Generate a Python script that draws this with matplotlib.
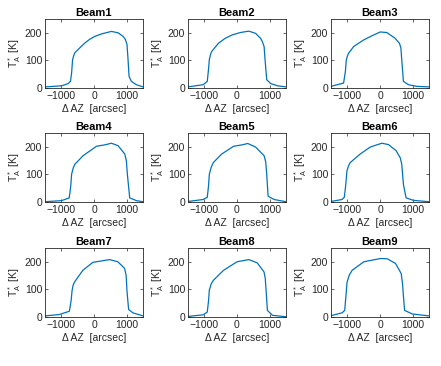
import matplotlib
matplotlib.use("Agg")
import matplotlib.pyplot as plt

plt.rcParams['font.family'] = ['Liberation Sans', 'DejaVu Sans']

titles = ['Beam1', 'Beam2', 'Beam3', 'Beam4', 'Beam5', 'Beam6', 'Beam7', 'Beam8', 'Beam9']

# azimuth offsets [arcsec] and antenna temperatures [K]
az1 = [-1500, -990, -790, -720, -686, -656, -620, -585, -430, -280, -127, 25, 230, 534, 737, 890, 960, 1010, 1043, 1073, 1144, 1297, 1500]
ta1 = [4, 8, 16, 24, 54, 102, 118, 128, 146, 163, 177, 187, 196, 205, 200, 187, 176, 158, 102, 42, 24, 12, 4]

az2 = [-1500, -1035, -910, -870, -848, -810, -776, -569, -362, -155, 103, 362, 569, 720, 776, 830, 859, 910, 1034, 1241, 1500]
ta2 = [4, 12, 24, 70, 102, 122, 132, 162, 180, 192, 201, 206, 198, 180, 168, 150, 102, 30, 16, 8, 4]

az3 = [-1500, -1114, -1060, -1032, -990, -961, -808, -503, -249, 5, 208, 463, 595, 640, 666, 717, 870, 1124, 1500]
ta3 = [6, 18, 60, 102, 118, 126, 150, 174, 189, 203, 201, 180, 162, 145, 102, 24, 12, 6, 4]

az4 = [-1500, -991, -758, -710, -686, -640, -585, -331, 76, 331, 534, 737, 941, 990, 1022, 1093, 1297, 1500]
ta4 = [1, 5, 15, 60, 100, 122, 137, 168, 202, 207, 213, 204, 174, 150, 100, 15, 5, 1]

az5 = [-1500, -1035, -910, -870, -848, -790, -724, -466, -103, 155, 331, 569, 828, 880, 910, 952, 1138, 1500]
ta5 = [2, 9, 17, 60, 100, 126, 143, 174, 202, 207, 212, 199, 168, 145, 100, 21, 9, 1]

az6 = [-1500, -1165, -1093, -1050, -1012, -960, -910, -605, -300, 56, 259, 493, 620, 666, 717, 798, 1022, 1500]
ta6 = [2, 9, 17, 60, 113, 132, 143, 174, 199, 213, 208, 186, 160, 137, 64, 15, 6, 1]

az7 = [-1500, -1060, -753, -700, -672, -640, -600, -343, -36, 476, 732, 937, 985, 1009, 1060, 1193, 1500]
ta7 = [4, 9, 21, 60, 95, 115, 126, 169, 198, 208, 200, 176, 150, 95, 27, 15, 4]

az8 = [-1500, -1035, -910, -870, -848, -790, -724, -414, 0, 362, 621, 828, 865, 890, 931, 1086, 1500]
ta8 = [2, 8, 18, 60, 97, 120, 133, 169, 200, 208, 196, 163, 140, 97, 24, 6, 1]

az9 = [-1500, -1162, -1081, -1040, -1009, -940, -855, -497, 15, 220, 476, 650, 690, 712, 753, 988, 1500]
ta9 = [5, 15, 24, 80, 126, 152, 169, 200, 212, 211, 194, 157, 120, 83, 24, 11, 4]

az_all = [az1, az2, az3, az4, az5, az6, az7, az8, az9]
ta_all = [ta1, ta2, ta3, ta4, ta5, ta6, ta7, ta8, ta9]

W, H = 441, 366
fig = plt.figure(figsize=(W / 100, H / 100), dpi=100)

lefts = [45, 188, 331]
tops = [19, 133, 248]
aw, ah = 98, 69

for i in range(9):
    r, c = divmod(i, 3)
    ax = fig.add_axes([lefts[c] / W, (H - tops[r] - ah) / H, aw / W, ah / H])
    ax.plot(az_all[i], ta_all[i], color='#0072BD', lw=0.9)
    ax.set_xlim(-1500, 1500)
    ax.set_ylim(0, 250)
    ax.set_xticks([-1000, 0, 1000])
    ax.set_yticks([0, 100, 200])
    ax.tick_params(direction='in', length=2, width=0.5, labelsize=7.5,
                   colors='#262626', top=True, right=True, pad=2)
    for s in ax.spines.values():
        s.set_linewidth(0.6)
        s.set_color('#262626')
    ax.set_title(titles[i], fontsize=8, fontweight='bold', pad=2)
    ax.set_xlabel('Δ AZ  [arcsec]', fontsize=7.5, color='#262626', labelpad=2)
    ax.set_ylabel(r'$\mathregular{T_A^*}$ [K]', fontsize=7.5, color='#262626', labelpad=1)

fig.savefig('out.png', dpi=100)
